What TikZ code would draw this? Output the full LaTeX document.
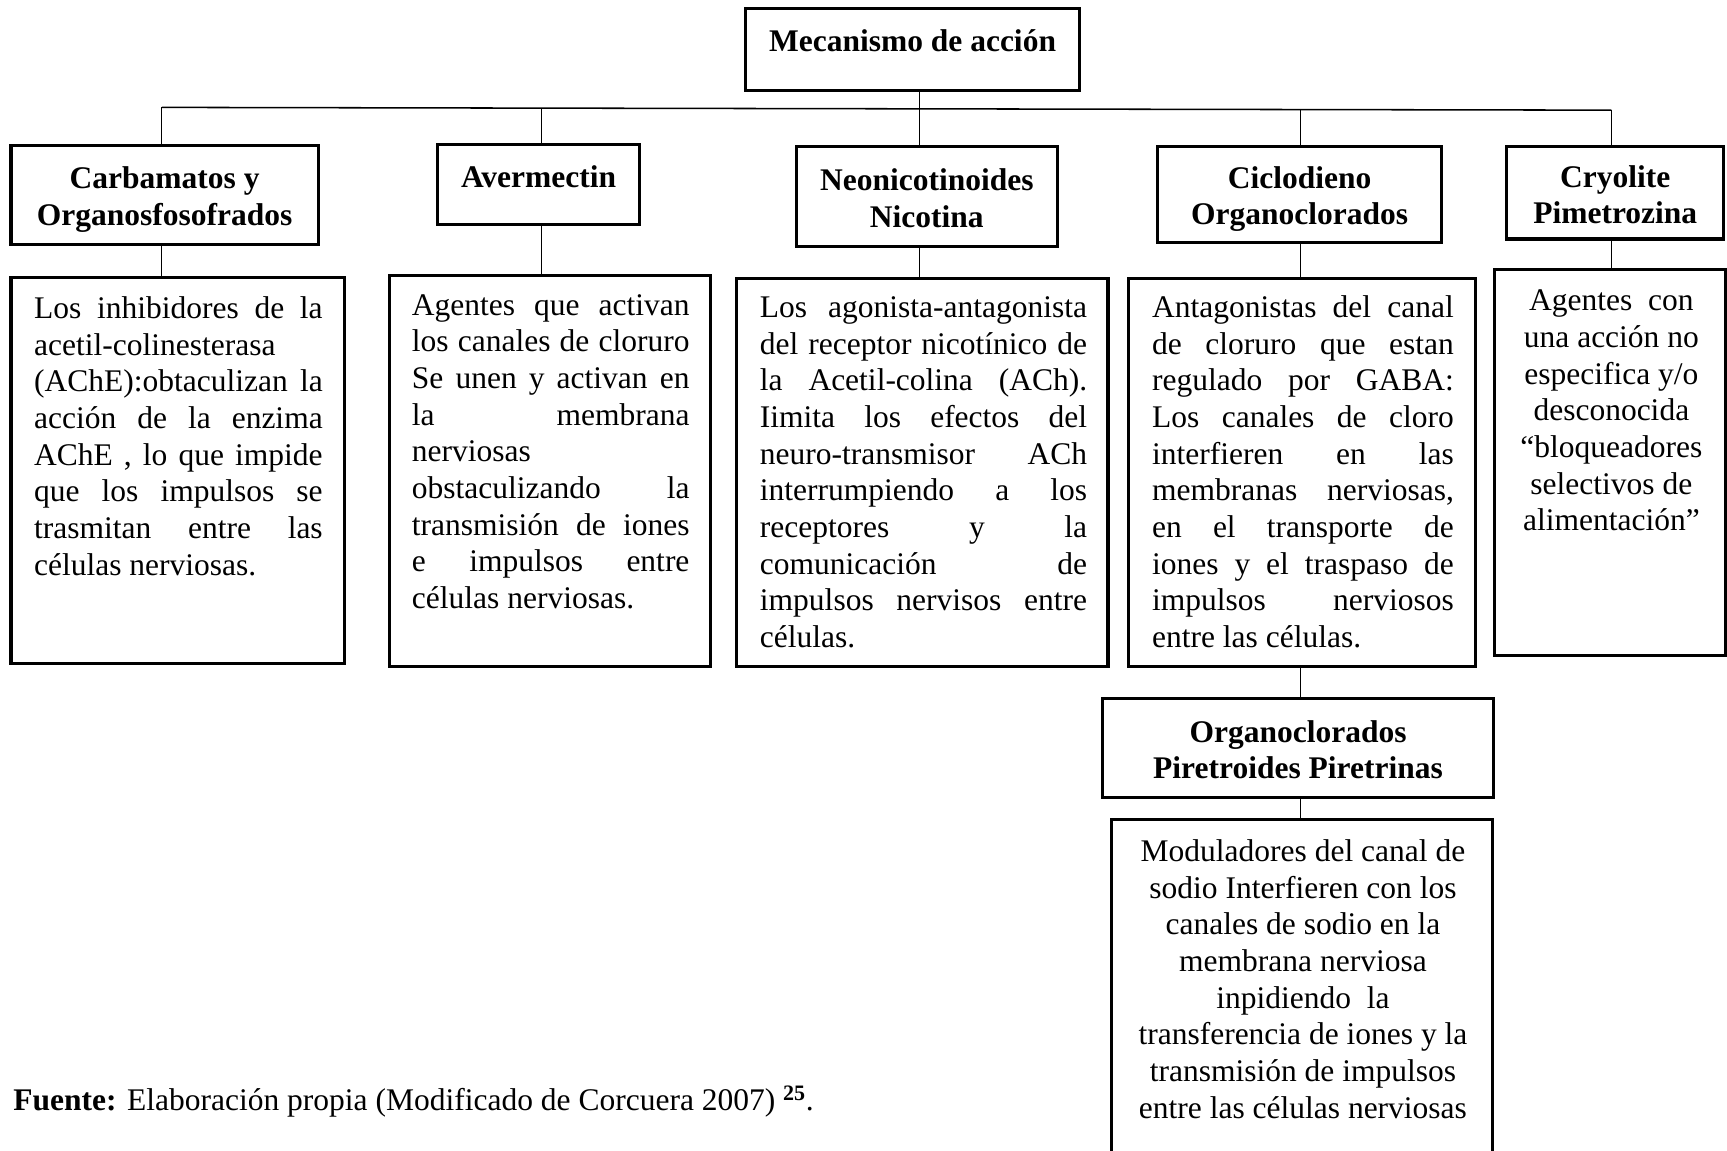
\documentclass[tikz,border=0pt]{standalone}
\usepackage{fontspec}
\setmainfont{Liberation Serif}
\newlength\jw
\newcommand{\jl}[1]{\makebox[\jw][s]{#1}}
\newcommand{\ha}{\rule{0pt}{28pt}}
\newcommand{\hb}{\rule[-5pt]{0pt}{5pt}}
\begin{document}
\begin{tikzpicture}[x=1pt,y=-1pt,
  box/.style={draw, line width=2.8pt, inner sep=0pt},
  hd/.style={box, font=\fontsize{28.6}{33.3}\selectfont\bfseries, align=center},
  txt/.style={inner sep=0pt, anchor=north, font=\fontsize{28.6}{33.3}\selectfont},
  conn/.style={line width=1pt}]
\useasboundingbox (0,0) rectangle (1568,1045);
\clip (0,0) rectangle (1568,1045);

% header boxes
\node[hd, minimum width=303pt, minimum height=74pt, text depth=16pt] (top) at (828.5,45) {Mecanismo de acción};
\node[hd, minimum width=279pt, minimum height=90pt] (c1) at (149.5,177) {\ha Carbamatos y\\Organosfosofrados\hb};
\node[hd, minimum width=184pt, minimum height=73pt, text depth=15pt] (c2) at (489,167.5) {Avermectin};
\node[hd, minimum width=237pt, minimum height=91pt] (c3) at (841.5,178.5) {\ha Neonicotinoides\\Nicotina\hb};
\node[hd, minimum width=258pt, minimum height=87pt] (c4) at (1180,176.5) {\ha Ciclodieno\\Organoclorados\hb};
\node[hd, minimum width=197pt, minimum height=84pt] (c5) at (1466.5,175) {\ha Cryolite\\Pimetrozina\hb};
\node[hd, minimum width=355pt, minimum height=90pt] (h6) at (1178.5,679) {\ha Organoclorados\\Piretroides Piretrinas\hb};

% description boxes
\node[box, minimum width=303pt, minimum height=350pt] (d1) at (161.5,427) {};
\node[box, minimum width=291pt, minimum height=355pt] (d2) at (499.5,427.5) {};
\node[box, minimum width=337pt, minimum height=352pt] (d3) at (837.5,429) {};
\node[box, minimum width=315pt, minimum height=352pt] (d4) at (1182.5,429) {};
\node[box, minimum width=210pt, minimum height=350pt] (d5) at (1462,420) {};
\node[box, minimum width=346pt, minimum height=326pt] (d6) at (1182,907) {};

% description texts
\node[txt] (d1t) at (162,265.7) {\setlength\jw{262pt}\begin{tabular}{@{}l@{}}
\jl{Los inhibidores de la}\\
acetil-colinesterasa\\
\jl{(AChE):obtaculizan la}\\
\jl{acción de la enzima}\\
\jl{AChE , lo que impide}\\
\jl{que los impulsos se}\\
\jl{trasmitan entre las}\\
células nerviosas.
\end{tabular}};
\node[txt] (d2t) at (500,262.7) {\setlength\jw{252pt}\begin{tabular}{@{}l@{}}
\jl{Agentes que activan}\\
\jl{los canales de cloruro}\\
\jl{Se unen y activan en}\\
\jl{la membrana}\\
nerviosas\\
\jl{obstaculizando la}\\
\jl{transmisión de iones}\\
\jl{e impulsos entre}\\
células nerviosas.
\end{tabular}};
\node[txt] (d3t) at (838.5,264.7) {\setlength\jw{297pt}\begin{tabular}{@{}l@{}}
\jl{Los agonista-antagonista}\\
\jl{del receptor nicotínico de}\\
\jl{la Acetil-colina (ACh).}\\
\jl{Iimita los efectos del}\\
\jl{neuro-transmisor ACh}\\
\jl{interrumpiendo a los}\\
\jl{receptores y la}\\
\jl{comunicación de}\\
\jl{impulsos nervisos entre}\\
células.
\end{tabular}};
\node[txt] (d4t) at (1183,264.7) {\setlength\jw{274pt}\begin{tabular}{@{}l@{}}
\jl{Antagonistas del canal}\\
\jl{de cloruro que estan}\\
\jl{regulado por GABA:}\\
\jl{Los canales de cloro}\\
\jl{interfieren en las}\\
\jl{membranas nerviosas,}\\
\jl{en el transporte de}\\
\jl{iones y el traspaso de}\\
\jl{impulsos nerviosos}\\
entre las células.
\end{tabular}};
\node[txt] (d5t) at (1463,258.7) {\begin{tabular}{@{}c@{}}
Agentes \ con\\
una acción no\\
especifica y/o\\
desconocida\\
“bloqueadores\\
selectivos de\\
alimentación”
\end{tabular}};
\node[txt] (d6t) at (1183,758.7) {\begin{tabular}{@{}c@{}}
Moduladores del canal de\\
sodio Interfieren con los\\
canales de sodio en la\\
membrana nerviosa\\
inpidiendo \ la\\
transferencia de iones y la\\
transmisión de impulsos\\
entre las células nerviosas
\end{tabular}};

% footnote
\node[anchor=base west, inner sep=0pt, font=\fontsize{28.6}{33.3}\selectfont] (fuente) at (12,1008)
  {\textbf{Fuente:} Elaboración propia (Modificado de Corcuera 2007) \textsuperscript{\textbf{25}}.};

% connectors
\coordinate (bl) at (147,97.5);
\coordinate (b2) at (492,98.2);
\coordinate (b3) at (835,98.8);
\coordinate (b4) at (1181,99.5);
\coordinate (br) at (1463,100);
\draw[conn, line width=1.4pt] (bl) -- (br);
\draw[conn] (b3) -- (b3 |- top.south);
\draw[conn] (bl) -- (bl |- c1.north);
\draw[conn] (b2) -- (b2 |- c2.north);
\draw[conn] (b3) -- (b3 |- c3.north);
\draw[conn] (b4) -- (b4 |- c4.north);
\draw[conn] (br) -- (br |- c5.north);
\draw[conn] (bl |- c1.south) -- (bl |- d1.north);
\draw[conn] (b2 |- c2.south) -- (b2 |- d2.north);
\draw[conn] (b3 |- c3.south) -- (b3 |- d3.north);
\draw[conn] (b4 |- c4.south) -- (b4 |- d4.north);
\draw[conn] (br |- c5.south) -- (br |- d5.north);
\draw[conn] (b4 |- d4.south) -- (b4 |- h6.north);
\draw[conn] (b4 |- h6.south) -- (b4 |- d6.north);
\end{tikzpicture}
\end{document}
